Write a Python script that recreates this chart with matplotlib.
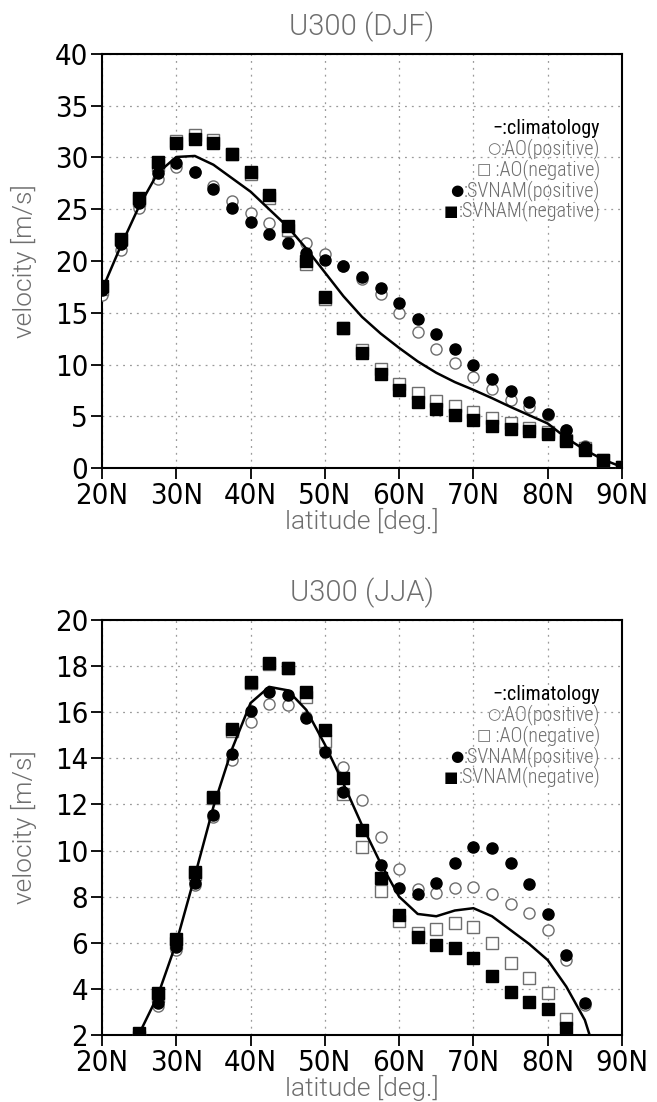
import numpy as np
import matplotlib
matplotlib.use("Agg")
import matplotlib.pyplot as plt

# ---- data ----
lat_djf = [20, 22.5, 25, 27.5, 30, 32.5, 35, 37.5, 40, 42.5, 45, 47.5, 50, 52.5, 55,
           57.5, 60, 62.5, 65, 67.5, 70, 72.5, 75, 77.5, 80, 82.5, 85, 87.5, 90]
clim_djf = [17.2, 21.4, 25.3, 28.5, 30.05, 30.15, 29.3, 28.0, 26.7, 25.0, 23.3, 21.2, 18.9, 16.6, 14.6,
            13.0, 11.6, 10.3, 9.2, 8.3, 7.55, 6.75, 5.9, 5.1, 4.3, 2.9, 1.75, 0.8, 0.1]
aop_djf = [16.7, 21.1, 25.1, 27.9, 29.1, 28.6, 27.2, 25.8, 24.6, 23.7, 22.8, 21.7, 20.7, 19.5, 18.3,
           16.8, 15.0, 13.1, 11.5, 10.1, 8.8, 7.6, 6.6, 5.9, 5.1, 3.7, 2.1, 0.8, 0.1]
aon_djf = [17.3, 22.0, 25.9, 29.3, 31.6, 32.2, 31.7, 30.3, 28.4, 26.1, 23.0, 19.7, 16.3, 13.5, 11.4,
           9.6, 8.1, 7.2, 6.5, 6.0, 5.45, 4.8, 4.3, 3.9, 3.5, 2.7, 1.9, 0.8, 0.1]
svp_djf = [17.2, 21.6, 25.6, 28.5, 29.5, 28.6, 27.0, 25.1, 23.75, 22.65, 21.7, 20.8, 20.1, 19.5, 18.5,
           17.4, 15.9, 14.4, 12.9, 11.5, 10.0, 8.6, 7.4, 6.4, 5.2, 3.7, 2.0, 0.8, 0.1]
svn_djf = [17.55, 22.1, 26.1, 29.6, 31.4, 31.8, 31.4, 30.3, 28.6, 26.4, 23.4, 20.0, 16.5, 13.5, 11.1,
           9.1, 7.5, 6.4, 5.7, 5.1, 4.65, 4.1, 3.8, 3.6, 3.3, 2.6, 1.7, 0.8, 0.1]

lat_jja = [22.5, 25, 27.5, 30, 32.5, 35, 37.5, 40, 42.5, 45, 47.5, 50, 52.5, 55,
           57.5, 60, 62.5, 65, 67.5, 70, 72.5, 75, 77.5, 80, 82.5, 85, 87.5]
clim_jja = [1.2, 2.05, 3.7, 6.0, 8.9, 11.9, 14.4, 16.4, 17.1, 16.95, 16.1, 14.6, 12.9, 11.1,
            9.45, 8.0, 7.25, 7.15, 7.4, 7.5, 7.15, 6.55, 5.95, 5.25, 4.1, 2.65, 0.1]
aop_jja = [None, 1.7, 3.26, 5.69, 8.51, 11.44, 13.93, 15.59, 16.36, 16.31, 15.78, 14.4, 13.64, 12.19,
           10.6, 9.19, 8.33, 8.15, 8.39, 8.43, 8.12, 7.68, 7.28, 6.56, 5.26, 3.3, None]
aon_jja = [None, 1.9, 3.7, 6.0, 9.0, 12.3, 15.2, 17.25, 18.1, 17.9, 16.67, 14.77, 12.46, 10.14,
           8.26, 6.95, 6.41, 6.59, 6.85, 6.67, 5.98, 5.14, 4.49, 3.81, 2.68, None, None]
svp_jja = [None, 1.7, 3.4, 5.83, 8.61, 11.54, 14.19, 16.05, 16.89, 16.75, 15.74, 14.28, 12.53, 10.9,
           9.38, 8.39, 8.12, 8.58, 9.48, 10.14, 10.13, 9.48, 8.54, 7.25, 5.47, 3.4, None]
svn_jja = [None, 2.1, 3.84, 6.15, 9.06, 12.31, 15.27, 17.32, 18.15, 17.93, 16.89, 15.23, 13.13, 10.89,
           8.83, 7.21, 6.27, 5.91, 5.76, 5.33, 4.58, 3.85, 3.45, 3.12, 2.29, None, None]

xticks = [20, 30, 40, 50, 60, 70, 80, 90]
xticklabels = ["20N", "30N", "40N", "50N", "60N", "70N", "80N", "90N"]

THIN = ["Roboto", "DejaVu Sans"]
NARROW_THIN = ["Roboto Condensed", "DejaVu Sans"]
GRAY = "#6e6e6e"

W, H = 657, 1102


def arr(v):
    return np.array([np.nan if x is None else x for x in v], dtype=float)


def panel(ax, lat, clim, aop, aon, svp, svn, ylim, yticks, title, top_px, bot_px):
    lat = np.array(lat)
    ax.plot(lat, arr(aop), "o", ms=8, mfc="white", mec=GRAY, mew=1.0, zorder=3)
    ax.plot(lat, arr(aon), "s", ms=8.5, mfc="white", mec=GRAY, mew=1.0, zorder=4)
    ax.plot(lat, arr(svp), "o", ms=8, mfc="black", mec="black", zorder=5)
    ax.plot(lat, arr(svn), "s", ms=8.5, mfc="black", mec="black", zorder=6)
    ax.plot(lat, arr(clim), "-", color="black", lw=1.8, zorder=7)

    ax.set_xlim(20, 90)
    ax.set_ylim(*ylim)
    ax.set_xticks(xticks)
    ax.set_xticklabels(xticklabels)
    ax.set_yticks(yticks)
    ax.grid(True, color="#9a9a9a", linestyle=(0, (1.5, 4)), lw=0.9)
    ax.tick_params(direction="out", length=8, width=1.3, labelsize=21, pad=2, colors="black")
    for lab in ax.get_xticklabels() + ax.get_yticklabels():
        lab.set_fontfamily("DejaVu Sans")
        lab.set_fontstretch("condensed")
    for sp in ax.spines.values():
        sp.set_linewidth(1.5)

    cx = (102 + 622) / 2 / W
    fig.text(cx, 1 - (top_px - 27) / H, title, ha="center", va="center",
             fontsize=21, color=GRAY, family=THIN, fontweight=300)
    fig.text(cx, 1 - (bot_px + 53) / H, "latitude [deg.]", ha="center", va="center",
             fontsize=19, color=GRAY, family=THIN, fontweight=300)
    fig.text(24 / W, 1 - (top_px + bot_px) / 2 / H, "velocity [m/s]", ha="center", va="center",
             rotation=90, fontsize=19, color=GRAY, family=THIN, fontweight=300)

    # legend as text lines, right aligned
    hpx = bot_px - top_px
    entries = [("", "\u2212:climatology", "black", 400),
               ("\u25cb", ":AO(positive)", GRAY, 300),
               ("\u25a1", " :AO(negative)", GRAY, 300),
               ("\u25cf", ":SVNAM(positive)", GRAY, 300),
               ("\u25a0", ":SVNAM(negative)", GRAY, 300)]
    offs = [74, 94.5, 115.5, 136.5, 157]
    for (sym, txt, col, wt), dy in zip(entries, offs):
        t = ax.text(0.958, 1 - dy / hpx, txt, transform=ax.transAxes, ha="right", va="center",
                    fontsize=14.5, color=col, family=NARROW_THIN, fontweight=wt, zorder=8)
        if sym:
            scol = "black" if sym in ("\u25cf", "\u25a0") else GRAY
            ax.annotate(sym, xy=(0, 0.5), xycoords=t, ha="right", va="center",
                        fontsize=11, color=scol, family=["DejaVu Sans"], zorder=8)


fig = plt.figure(figsize=(W / 100, H / 100), dpi=100)
ax1 = fig.add_axes([102 / W, 1 - 468 / H, 520 / W, 414 / H])
ax2 = fig.add_axes([102 / W, 1 - 1035 / H, 520 / W, 415 / H])

panel(ax1, lat_djf, clim_djf, aop_djf, aon_djf, svp_djf, svn_djf,
      (0, 40), list(range(0, 41, 5)), "U300 (DJF)", 54, 468)
panel(ax2, lat_jja, clim_jja, aop_jja, aon_jja, svp_jja, svn_jja,
      (2, 20), list(range(2, 21, 2)), "U300 (JJA)", 620, 1035)

fig.savefig("out.png", dpi=100)
